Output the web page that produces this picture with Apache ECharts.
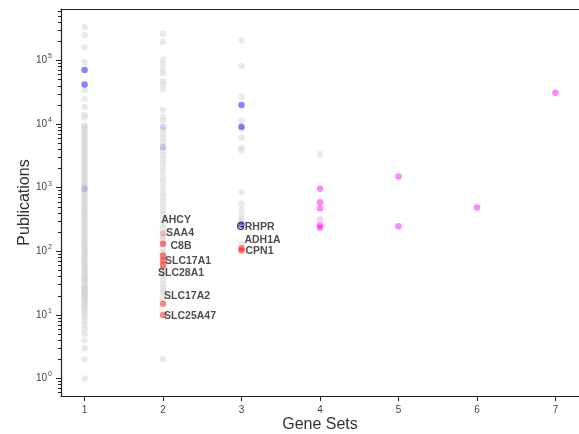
<!DOCTYPE html>
<html>
<head>
<meta charset="utf-8">
<script src="https://cdn.jsdelivr.net/npm/echarts@6/dist/echarts.min.js"></script>
<style>html,body{margin:0;padding:0;background:#fff;}#c{width:579px;height:434px;}</style>
</head>
<body>
<div id="c"></div>
<script>
// ---------- data ----------
const geneSetTicks = [1, 2, 3, 4, 5, 6, 7];
const majorPubTicks = [1, 10, 100, 1000, 10000, 100000];
const minorPubTicks = [0.6, 0.7, 0.8, 0.9,
  2, 3, 4, 5, 6, 7, 8, 9,
  20, 30, 40, 50, 60, 70, 80, 90,
  200, 300, 400, 500, 600, 700, 800, 900,
  2000, 3000, 4000, 5000, 6000, 7000, 8000, 9000,
  20000, 30000, 40000, 50000, 60000, 70000, 80000, 90000,
  200000, 300000, 400000, 500000, 600000];

// gray (background) genes, publications per gene set count
const grayPubs1 = [1, 2, 3, 4, 5, 6, 7, 8, 9, 10, 11, 12, 13, 14, 15, 16, 17, 18, 19, 20,
  21, 22, 23, 24, 25, 26, 27, 28, 30, 32, 34, 36, 38, 40, 43, 46, 50, 53, 56, 60, 64, 68,
  72, 77, 82, 88, 94, 100, 107, 115, 123, 131, 140, 150, 160, 172, 185, 198, 212, 228,
  245, 262, 280, 300, 322, 345, 370, 396, 424, 455, 487, 520, 560, 600, 640, 690, 740,
  790, 850, 910, 980, 1050, 1120, 1200, 1290, 1380, 1480, 1590, 1700, 1820, 1950, 2090,
  2240, 2400, 2570, 2760, 2960, 3170, 3400, 3640, 3900, 4180, 4480, 4800, 5150, 5520,
  5920, 6340, 6800, 7290, 7800, 8370, 8970, 9500, 12800, 14000, 18500, 25000, 34000,
  94000, 162000, 252000, 333000];
const grayPubs2 = [2, 18, 22, 24, 27, 30, 35, 40, 45, 52, 60, 70, 82, 95, 110, 130, 150,
  170, 200, 230, 270, 320, 380, 440, 520, 610, 720, 850, 1000, 1200, 1400, 1700, 2000,
  2400, 2800, 3300, 3800, 4500, 5200, 6000, 7000, 8000, 11500, 13100, 16700, 35000,
  42000, 47000, 63000, 71000, 87000, 104000, 196000, 263000];
const grayPubs3 = [131, 240, 290, 315, 365, 450, 560, 850, 3850, 4250, 6100, 8500,
  11400, 27000, 83000, 206000];
const grayPubs4 = [3400];

// highlighted genes: [gene sets, publications]
const bluePoints = [[1, 71000], [1, 42000], [3, 20000], [3, 9100], [3, 265]];
const blueFaintPoints = [[1, 960], [2, 9100], [2, 4300]];
const redPoints = [[2, 131], [2, 86], [2, 72], [2, 60], [2, 15], [2, 10], [3, 112], [3, 103]];
const redFaintPoints = [[2, 188]];
const magentaPoints = [[4, 960], [4, 590], [4, 475], [4, 255], [4, 235], [5, 1500], [5, 248], [6, 490], [7, 31000]];
const magentaFaintPoints = [[4, 315]];

// gene labels: name, gene sets, publications
const labelNames = ['AHCY', 'SAA4', 'C8B', 'SLC17A1', 'SLC28A1', 'SLC17A2', 'SLC25A47', 'GRHPR', 'ADH1A', 'CPN1'];
const labelSets  = [2, 2, 2, 2, 2, 2, 2, 3, 3, 3];
const labelPubs  = [188, 131, 86, 72, 60, 15, 10, 265, 112, 103];

// ---------- build ----------
const L = v => Math.log10(v);
const labelOffsets = [[13, -14], [17, -11], [18, -9], [25, 1], [18, 8], [24, -8], [27, 1], [14, 3], [21, -8], [18, 1]];

function grayData() {
  const out = [];
  [[1, grayPubs1], [2, grayPubs2], [3, grayPubs3], [4, grayPubs4]].forEach(([x, arr]) => {
    arr.forEach(v => out.push([x, L(v)]));
  });
  return out;
}
const conv = pts => pts.map(p => [p[0], L(p[1])]);

const SYM = 6.5;
const mk = (name, data, color, z) => ({
  name, type: 'scatter', data, symbolSize: SYM, z, clip: false,
  itemStyle: { color, borderWidth: 0 }, silent: true
});

const labelSeries = {
  type: 'scatter', z: 10, symbolSize: SYM, silent: true,
  itemStyle: { color: 'rgba(0,0,0,0)' },
  data: labelNames.map((n, i) => ({
    value: [labelSets[i], L(labelPubs[i])],
    label: {
      show: true, formatter: n, position: 'inside', offset: labelOffsets[i],
      fontFamily: 'Liberation Sans, Arial, sans-serif', fontWeight: 'bold',
      fontSize: 10.5, color: '#222'
    }
  }))
};

const axisFont = 'Liberation Sans, Arial, sans-serif';
const option = {
  animation: false,
  grid: { left: 61, top: 9, right: 0, bottom: 38, outerBoundsMode: 'none' },
  xAxis: [{
    type: 'value', min: 0.7, max: 7.3,
    name: 'Gene Sets', nameLocation: 'middle', nameGap: 21, nameMoveOverlap: false,
    nameTextStyle: { fontSize: 16, color: '#333', fontFamily: axisFont },
    axisLine: { show: true, onZero: false, lineStyle: { color: '#222', width: 1.2 } },
    axisTick: { show: true, length: 5, lineStyle: { color: '#222' }, customValues: geneSetTicks },
    axisLabel: { customValues: geneSetTicks, margin: 9, fontSize: 10, color: '#444', fontFamily: axisFont },
    splitLine: { show: false }
  }, {
    type: 'value', min: 0.7, max: 7.3, position: 'top',
    axisLine: { show: true, onZero: false, lineStyle: { color: '#222', width: 1.2 } },
    axisTick: { show: false }, axisLabel: { show: false }, splitLine: { show: false }
  }],
  yAxis: [{
    type: 'value', min: -0.275, max: 5.81,
    name: 'Publications', nameLocation: 'middle', nameGap: 28, nameMoveOverlap: false,
    nameTextStyle: { fontSize: 16, color: '#333', fontFamily: axisFont },
    axisLine: { show: true, onZero: false, lineStyle: { color: '#222', width: 1.2 } },
    axisTick: { show: true, length: 5, lineStyle: { color: '#222' }, customValues: majorPubTicks.map(L) },
    axisLabel: {
      customValues: majorPubTicks.map(L), margin: 9, color: '#444',
      formatter: v => '{b|10}{s|' + Math.round(v) + '}',
      rich: {
        b: { fontSize: 10, fontFamily: axisFont, color: '#444' },
        s: { fontSize: 7, fontFamily: axisFont, color: '#444', padding: [0, 0, 8, 1] }
      }
    },
    splitLine: { show: false }
  }, {
    type: 'value', min: -0.275, max: 5.81, position: 'left',
    axisLine: { show: false, onZero: false },
    axisTick: { show: true, length: 3, lineStyle: { color: '#222' }, customValues: minorPubTicks.map(L) },
    axisLabel: { show: false }, splitLine: { show: false }
  }],
  series: [
    mk('gray', grayData(), 'rgba(211,211,211,0.6)', 2),
    mk('blueFaint', conv(blueFaintPoints), 'rgba(0,0,255,0.2)', 3),
    mk('redFaint', conv(redFaintPoints), 'rgba(255,0,0,0.25)', 3),
    mk('magentaFaint', conv(magentaFaintPoints), 'rgba(255,0,255,0.25)', 3),
    mk('blue', conv(bluePoints), 'rgba(0,0,255,0.6)', 4),
    mk('red', conv(redPoints), 'rgba(255,0,0,0.6)', 4),
    mk('magenta', conv(magentaPoints), 'rgba(255,0,255,0.6)', 4),
    labelSeries
  ]
};
const chart = echarts.init(document.getElementById('c'), null, { renderer: 'canvas' });
chart.setOption(option);
</script>
</body>
</html>
